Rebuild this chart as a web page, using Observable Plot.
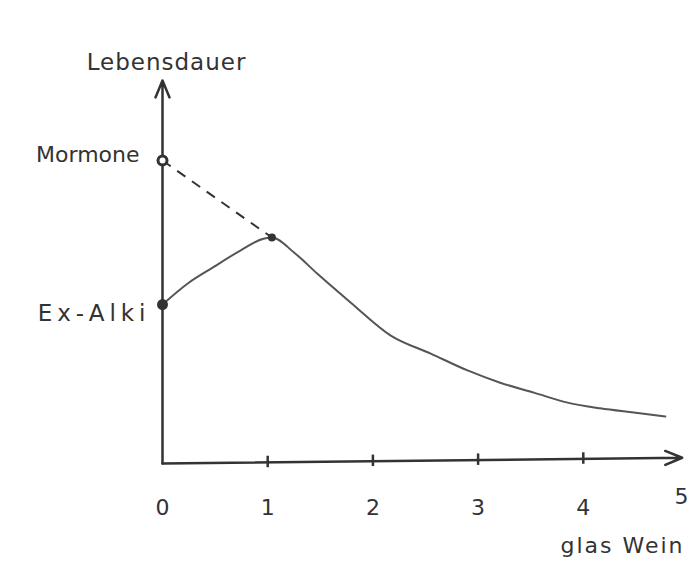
<!DOCTYPE html>
<html><head><meta charset="utf-8">
<script src="https://cdn.jsdelivr.net/npm/d3@7"></script>
<script src="https://cdn.jsdelivr.net/npm/@observablehq/plot@0.6"></script>
<style>body{margin:0;background:#fff}</style>
</head><body><div id="chart"></div>
<script>
// Hand-drawn curve: Lebensdauer vs. Glas Wein
const curveX = [0, 0.24, 0.48, 0.74, 0.96, 1.04, 1.25, 1.47, 1.79, 2.17, 2.55, 2.90, 3.21, 3.53, 3.85, 4.16, 4.48, 4.78];
const curveY = [4.15, 4.70, 5.12, 5.56, 5.87, 5.90, 5.51, 4.96, 4.20, 3.34, 2.87, 2.43, 2.11, 1.85, 1.59, 1.44, 1.33, 1.23];
const mormone = {x: 0, y: 7.91, label: "Mormone"};
const exAlki = {x: 0, y: 4.15, label: "Ex-Alki"};
const peak = {x: 1.04, y: 5.90};
const xTicks = [1, 2, 3, 4];
const xTickLabels = [0, 1, 2, 3, 4, 5];
const xTitle = "glas Wein";
const yTitle = "Lebensdauer";

const curve = curveX.map((x, i) => ({x, y: curveY[i]}));
const ink = "#333";
const font = "DejaVu Sans";

const chart = Plot.plot({
  width: 693, height: 572,
  marginLeft: 162, marginRight: 5, marginTop: 80, marginBottom: 109,
  x: {domain: [0, 5], axis: null},
  y: {domain: [0, 10], axis: null},
  style: {fontFamily: font, background: "#fff", color: ink},
  marks: [
    // axes with arrowheads
    Plot.arrow([{x1: 0, y1: 0, x2: 0, y2: 10}], {x1: "x1", y1: "y1", x2: "x2", y2: "y2", stroke: ink, strokeWidth: 2.5, headLength: 11, headAngle: 45}),
    Plot.arrow([{x1: 0, y1: 0, x2: 4.94, y2: 0.15}], {x1: "x1", y1: "y1", x2: "x2", y2: "y2", stroke: ink, strokeWidth: 2.5, headLength: 11, headAngle: 45}),
    Plot.ruleX(xTicks, {x: d => d, y1: d => d * 0.03 - 0.14, y2: d => d * 0.03 + 0.16, stroke: ink, strokeWidth: 2.5}),
    // tick labels
    Plot.text(xTickLabels.slice(0, 5), {x: d => d, y: 0, dy: 44, text: d => String(d), fontSize: 22, fill: ink}),
    Plot.text(xTickLabels.slice(5), {x: d => d, y: 0, dy: 33, textAnchor: "end", text: d => String(d), fontSize: 22, fill: ink}),
    // dashed line Mormone -> peak
    Plot.link([{x1: mormone.x, y1: mormone.y, x2: peak.x, y2: peak.y}], {x1: "x1", y1: "y1", x2: "x2", y2: "y2", stroke: ink, strokeWidth: 2, strokeDasharray: "10,8"}),
    // curve
    Plot.line(curve, {x: "x", y: "y", curve: "monotone-x", stroke: "#555", strokeWidth: 2}),
    // points
    Plot.dot([mormone], {x: "x", y: "y", r: 4.5, fill: "#fff", stroke: ink, strokeWidth: 3}),
    Plot.dot([exAlki], {x: "x", y: "y", r: 5.5, fill: ink}),
    Plot.dot([peak], {x: "x", y: "y", r: 4, fill: ink}),
    // labels
    Plot.text([mormone], {x: "x", y: "y", text: "label", textAnchor: "end", dx: -23, dy: -6, fontSize: 22, fill: ink}),
    Plot.text([exAlki], {x: "x", y: "y", text: "label", textAnchor: "end", dx: -12, dy: 9, fontSize: 23, fill: ink}),
    Plot.text([yTitle], {x: 0, y: 10, text: d => d, dx: 4, dy: -18, fontSize: 23, fill: ink}),
    Plot.text([xTitle], {x: 5, y: 0, text: d => d, textAnchor: "end", dx: -4, dy: 82, fontSize: 22, fill: ink})
  ]
});
// hand-lettering feel: extra letter spacing on the labels
const spacing = new Map([["Ex-Alki", 5], ["Lebensdauer", 1], ["glas Wein", 2]]);
d3.select(chart).selectAll("text").each(function() {
  const s = spacing.get(this.textContent);
  if (s) this.setAttribute("letter-spacing", s + "px");
});
document.getElementById("chart").append(chart);
</script></body></html>
